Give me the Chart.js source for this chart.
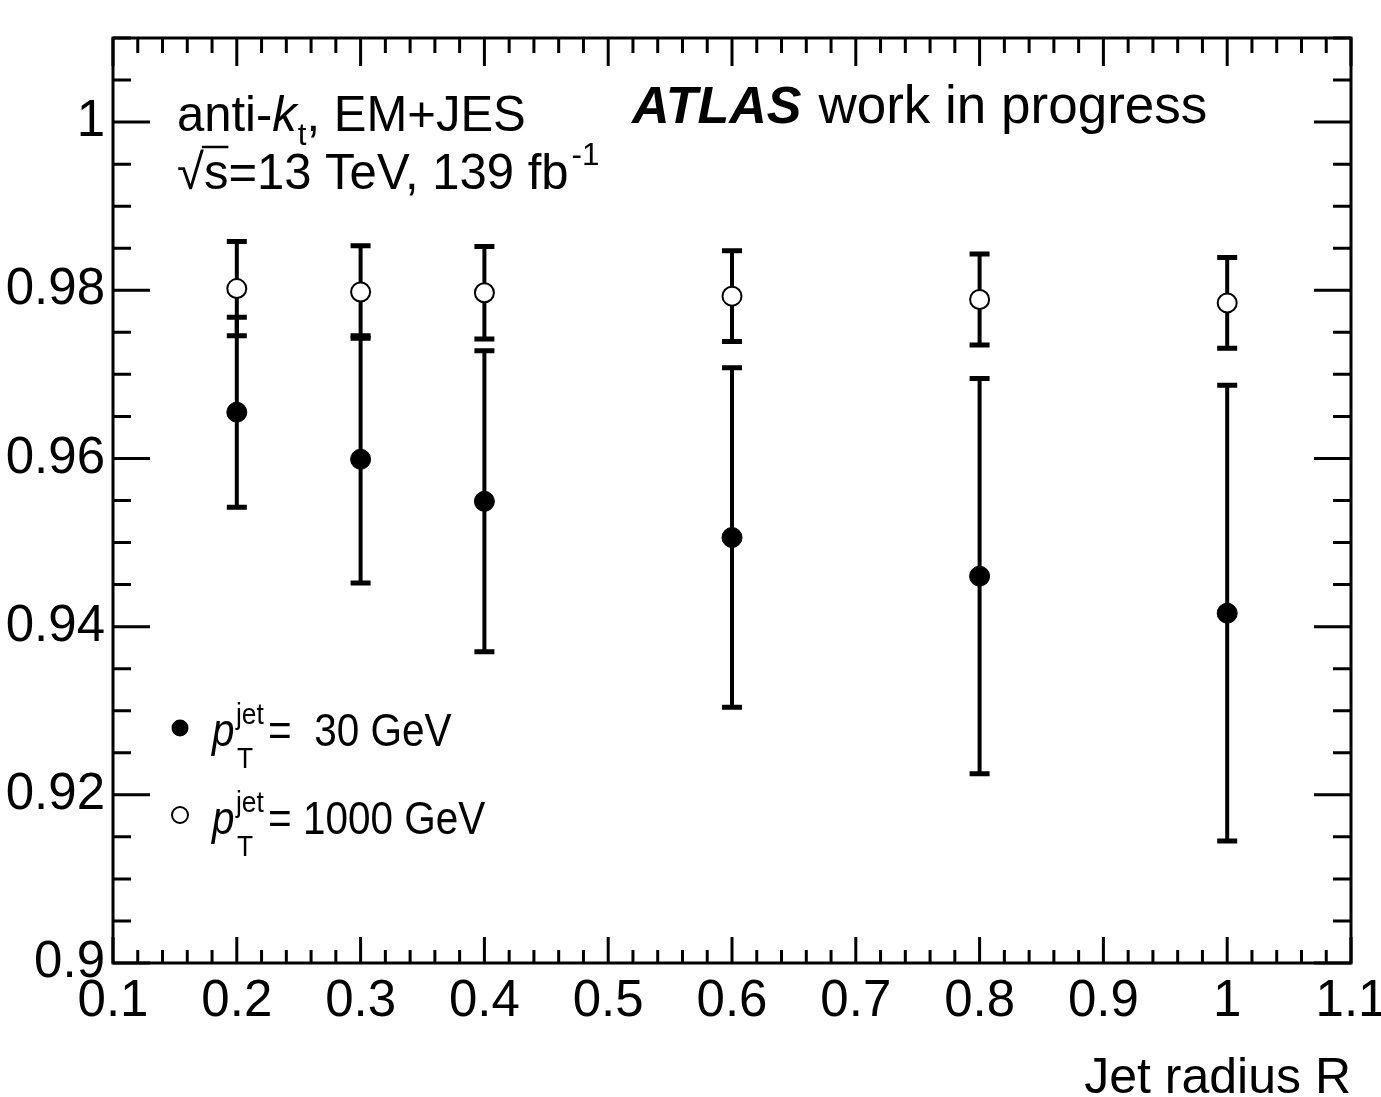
<!DOCTYPE html>
<html>
<head>
<meta charset="utf-8">
<script src="https://cdn.jsdelivr.net/npm/chart.js@4.4.1/dist/chart.umd.min.js"></script>
<style>
html,body{margin:0;padding:0;background:#fff;}
#wrap{width:1381px;height:1097px;position:relative;}
</style>
</head>
<body>
<div id="wrap"><canvas id="c" width="1381" height="1097"></canvas></div>
<script>
// ---- data ----
const radii = [0.2, 0.3, 0.4, 0.6, 0.8, 1.0];
const resp30 = [0.9655, 0.9599, 0.9549, 0.9506, 0.9460, 0.9416];
const err30 = [0.0113, 0.0147, 0.0179, 0.0202, 0.0235, 0.0271];
const resp1000 = [0.9802, 0.9798, 0.9797, 0.9793, 0.9789, 0.9785];
const err1000 = [0.0056, 0.0055, 0.0055, 0.0054, 0.0054, 0.0054];
const xTickStep = 0.1, xMinorStep = 0.02;
const yTickStep = 0.02, yMinorStep = 0.005;

const FONT = '"Liberation Sans", Arial, Helvetica, sans-serif';

const errorBars = {
  id: 'errorBars',
  beforeDatasetsDraw(chart) {
    const ctx = chart.ctx;
    const xs = chart.scales.x, ys = chart.scales.y;
    chart.data.datasets.forEach(ds => {
      ctx.save();
      ctx.strokeStyle = '#000';
      ds.data.forEach((p, i) => {
        const e = ds.errors[i];
        const px = xs.getPixelForValue(p.x);
        const yt = ys.getPixelForValue(p.y + e);
        const yb = ys.getPixelForValue(p.y - e);
        ctx.lineWidth = 4;
        ctx.beginPath(); ctx.moveTo(px, yt); ctx.lineTo(px, yb); ctx.stroke();
        ctx.lineWidth = 5;
        ctx.beginPath();
        ctx.moveTo(px - 10, yt); ctx.lineTo(px + 10, yt);
        ctx.moveTo(px - 10, yb); ctx.lineTo(px + 10, yb);
        ctx.stroke();
      });
      ctx.restore();
    });
  }
};

// text drawn with a horizontal squeeze (ROOT Helvetica look)
function txt(ctx, s, x, y, font, sx) {
  ctx.save();
  ctx.font = font;
  ctx.translate(x, y);
  ctx.scale(sx, 1);
  ctx.fillText(s, 0, 0);
  const w = ctx.measureText(s).width * sx;
  ctx.restore();
  return w;
}

function drawPT(ctx, x, y, rest) {
  const sx = 0.88;
  txt(ctx, 'p', x, y, 'italic 46px ' + FONT, sx);
  txt(ctx, 'jet', x + 24, y - 22, '30px ' + FONT, sx);
  txt(ctx, 'T', x + 25, y + 22, '30px ' + FONT, sx);
  txt(ctx, rest, x + 56, y, '46px ' + FONT, sx);
}

const frameAndText = {
  id: 'frameAndText',
  afterDraw(chart) {
    const ctx = chart.ctx;
    const a = chart.chartArea;
    const xs = chart.scales.x, ys = chart.scales.y;
    ctx.save();
    ctx.strokeStyle = '#000';
    ctx.fillStyle = '#000';
    ctx.lineWidth = 3;
    ctx.strokeRect(a.left, a.top, a.right - a.left, a.bottom - a.top);
    // x ticks
    const nx = Math.round((xs.max - xs.min) / xMinorStep);
    ctx.beginPath();
    for (let i = 0; i <= nx; i++) {
      const v = xs.min + i * xMinorStep;
      const px = xs.getPixelForValue(v);
      const major = i % 5 === 0;
      const lb = major ? 26 : 13, lt = major ? 28 : 15;
      ctx.moveTo(px, a.bottom); ctx.lineTo(px, a.bottom - lb);
      ctx.moveTo(px, a.top); ctx.lineTo(px, a.top + lt);
    }
    // y ticks
    const ny = Math.floor((ys.max - ys.min) / yMinorStep + 1e-6);
    for (let i = 0; i <= ny; i++) {
      const v = ys.min + i * yMinorStep;
      const py = ys.getPixelForValue(v);
      const major = i % 4 === 0;
      const l = major ? 37 : 18;
      ctx.moveTo(a.left, py); ctx.lineTo(a.left + l, py);
      ctx.moveTo(a.right, py); ctx.lineTo(a.right - l, py);
    }
    ctx.stroke();

    // annotation text
    ctx.textBaseline = 'alphabetic';
    ctx.textAlign = 'left';
    const sx = 0.98;
    let x = 177, y = 131;
    x += txt(ctx, 'anti-', x, y, '50px ' + FONT, sx);
    x += txt(ctx, 'k', x, y, 'italic 50px ' + FONT, sx);
    x += txt(ctx, 't', x + 1, y + 14, '32px ' + FONT, sx) + 1;
    txt(ctx, ', EM+JES', x, y, '50px ' + FONT, sx);

    y = 189; x = 177;
    const wr = txt(ctx, '\u221A', x, y, '50px ' + FONT, sx);
    const ws = txt(ctx, 's', x + wr, y, '50px ' + FONT, sx);
    ctx.lineWidth = 2.5;
    ctx.beginPath();
    ctx.moveTo(x + wr - 2, y - 42); ctx.lineTo(x + wr + ws, y - 42);
    ctx.stroke();
    x += wr + ws;
    x += txt(ctx, '=13 TeV, 139 fb', x, y, '50px ' + FONT, sx);
    txt(ctx, '-1', x + 3, y - 24, '32px ' + FONT, sx);

    // ATLAS label
    x = 632; y = 123;
    x += txt(ctx, 'ATLAS', x, y, 'italic bold 52px ' + FONT, 1);
    txt(ctx, 'work in progress', x + 17, y, '53px ' + FONT, 1);

    // legend
    ctx.beginPath();
    ctx.arc(180, 728, 8.5, 0, Math.PI * 2);
    ctx.fill();
    drawPT(ctx, 212, 746, '=  30 GeV');
    ctx.beginPath();
    ctx.lineWidth = 2;
    ctx.arc(180, 815, 8, 0, Math.PI * 2);
    ctx.stroke();
    drawPT(ctx, 212, 834, '= 1000 GeV');
    ctx.restore();
  }
};

const ds30 = radii.map((r, i) => ({x: r, y: resp30[i]}));
const ds1000 = radii.map((r, i) => ({x: r, y: resp1000[i]}));

new Chart(document.getElementById('c'), {
  type: 'scatter',
  data: {
    datasets: [
      {label: 'pT jet = 30 GeV', data: ds30, errors: err30,
       backgroundColor: '#000', borderColor: '#000', pointRadius: 10, pointBorderWidth: 1, pointHoverRadius: 10},
      {label: 'pT jet = 1000 GeV', data: ds1000, errors: err1000,
       backgroundColor: '#fff', borderColor: '#000', pointRadius: 9.5, pointBorderWidth: 2, pointHoverRadius: 9.5}
    ]
  },
  options: {
    responsive: false,
    animation: false,
    events: [],
    layout: {padding: {top: 38, right: 30, left: 0, bottom: 0}},
    plugins: {legend: {display: false}, tooltip: {enabled: false}},
    scales: {
      x: {
        type: 'linear', min: 0.1, max: 1.1,
        grid: {display: false, drawTicks: false},
        border: {display: false},
        ticks: {stepSize: xTickStep, color: '#000', padding: 8,
                font: {family: FONT, size: 51},
                callback: v => String(+v.toFixed(2))},
        title: {display: true, text: 'Jet radius R', align: 'end', color: '#000',
                font: {family: FONT, size: 50, lineHeight: 0.7}, padding: {top: 0, bottom: 0}},
        afterFit(s) { s.height = 134; s.paddingLeft = 0; s.paddingRight = 0; }
      },
      y: {
        type: 'linear', min: 0.9, max: 1.01,
        grid: {display: false, drawTicks: false},
        border: {display: false},
        ticks: {stepSize: yTickStep, includeBounds: false, color: '#000', padding: 8,
                font: {family: FONT, size: 51},
                callback: v => String(+v.toFixed(2))},
        afterFit(s) { s.width = 113; s.paddingTop = 0; s.paddingBottom = 0; }
      }
    }
  },
  plugins: [errorBars, frameAndText]
});
</script>
</body>
</html>
